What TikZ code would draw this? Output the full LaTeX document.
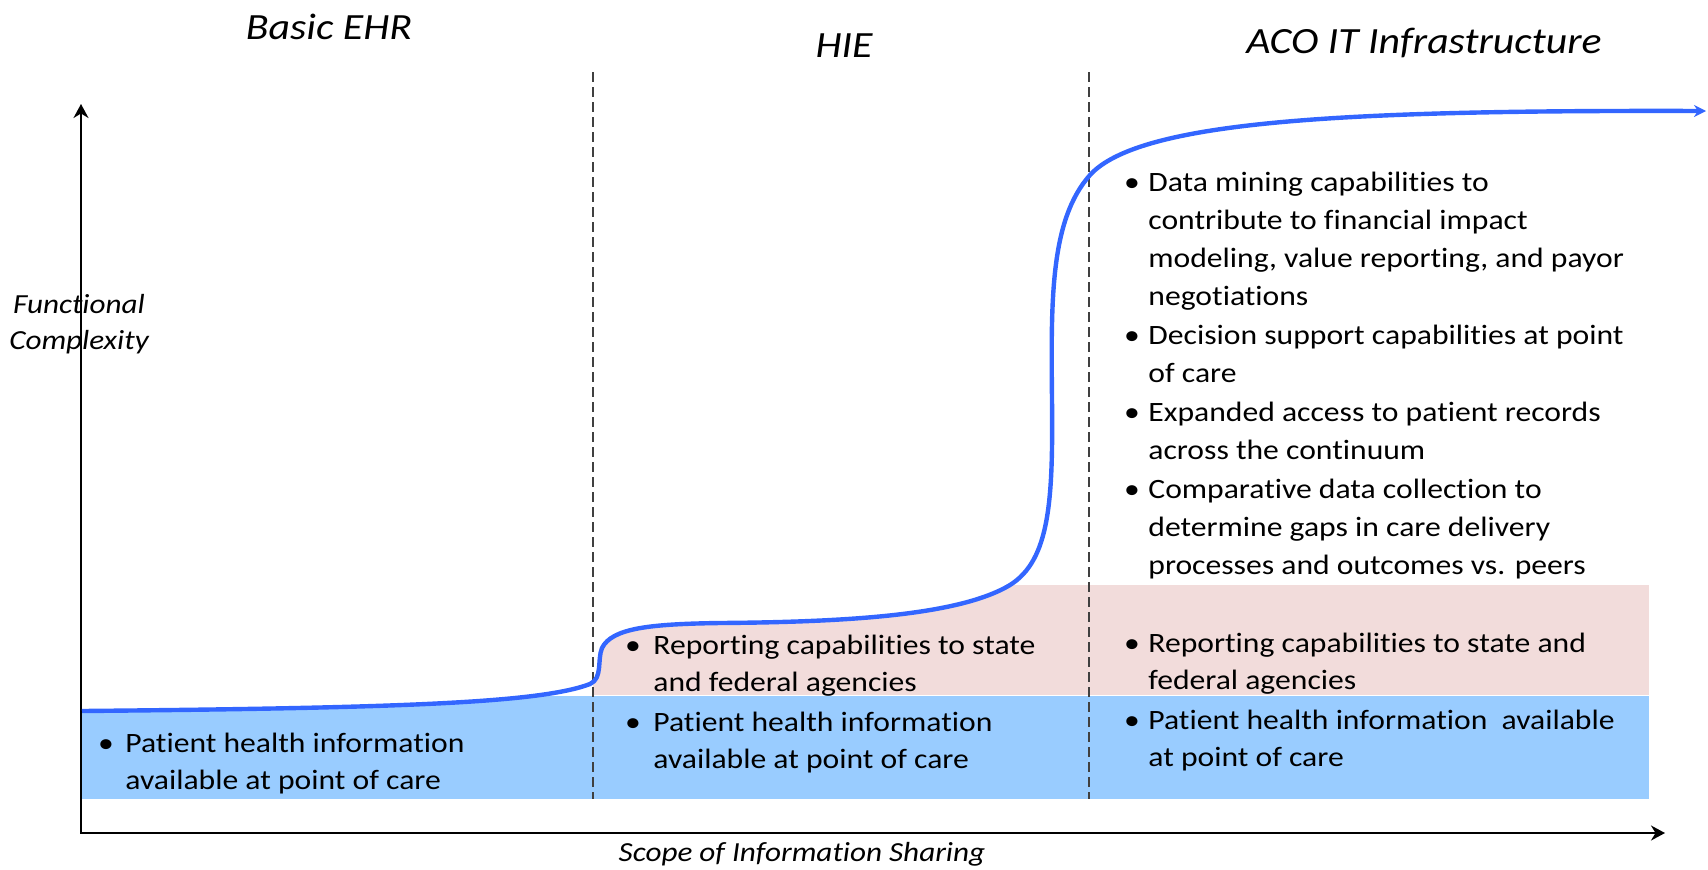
\documentclass[tikz,border=0pt]{standalone}
\usepackage{fontspec}
\setmainfont{Carlito}[FakeStretch=1.13,Ligatures=NoCommon]
\usetikzlibrary{arrows.meta}
\definecolor{bandblue}{HTML}{99CCFF}
\definecolor{bandpink}{HTML}{F2DCDB}
\definecolor{curveblue}{HTML}{3366FF}
\definecolor{dividergray}{HTML}{404040}

\begin{document}
\begin{tikzpicture}[x=0.5pt,y=-0.5pt,
  axis/.style={line width=1.1pt,-{Stealth[length=7pt,width=7.5pt]}},
  divider/.style={draw=dividergray,line width=0.6pt,dash pattern=on 5pt off 2.5pt},
  growth/.style={draw=curveblue,line width=2.2pt,-{Stealth[length=6pt,width=6pt]}},
  heading/.style={font=\fontsize{18.5}{22}\selectfont\itshape,anchor=base,inner sep=0pt},
  axislabel/.style={font=\fontsize{13.8}{16}\selectfont\itshape,anchor=base,inner sep=0pt},
  item/.style={font=\fontsize{14}{17}\selectfont,anchor=base west,inner sep=0pt},
  dot/.style={font=\fontsize{14}{17}\selectfont,anchor=base,inner sep=0pt},
]
\useasboundingbox (0,0) rectangle (1708,869);

% the capability growth curve
\def\growthpath{(82,711) .. controls (400,708) and (540,703) .. (590,684)
  .. controls (603,678) and (597,660) .. (602,648)
  .. controls (612,628) and (650,624) .. (720,623)
  .. controls (850,622) and (960,615) .. (1010,585)
  .. controls (1050,560) and (1053,500) .. (1052,400)
  .. controls (1051,300) and (1050,220) .. (1090,175)
  .. controls (1140,120) and (1350,110) .. (1706,111)}

% capability bands, kept below the curve
\begin{scope}
  \clip \growthpath -- (1708,869) -- (0,869) -- (0,711) -- cycle;
  \fill[bandblue] (81,696) rectangle (1649,799);
  \fill[bandpink] (593,585) rectangle (1649,694.5);
\end{scope}

% stage dividers
\coordinate (d1top) at (593,72);
\coordinate (d1bot) at (593,799);
\coordinate (d2top) at (1089,72);
\coordinate (d2bot) at (1089,799);
\draw[divider] (d1top) -- (d1bot);
\draw[divider] (d2top) -- (d2bot);

% axes
\coordinate (origin) at (81,833);
\coordinate (ytip) at (81,104);
\coordinate (xtip) at (1665,833);
\draw[axis] (origin) -- (ytip);
\draw[axis] ([xshift=-0.5pt]origin) -- (xtip);

\draw[growth] \growthpath;

% stage headings
\node[heading] (ehr) at (329,39) {Basic EHR};
\node[heading] (hie) at (844,57) {HIE};
\node[heading] (aco) at (1424,53) {ACO IT Infrastructure};

% axis labels
\node[axislabel] (ylab1) at (79,313) {Functional};
\node[axislabel] (ylab2) at (79,349) {Complexity};
\node[axislabel] (xlab) at (802,861) {Scope of Information Sharing};

% Basic EHR
\node[dot] (e1) at (106,752) {•};
\node[item] (e1a) at (125,752) {Patient health information};
\node[item] (e1b) at (125,789) {available at point of care};

% HIE
\node[dot] (h1) at (633,654) {•};
\node[item] (h1a) at (653,654) {Reporting capabilities to state};
\node[item] (h1b) at (653,691) {and federal agencies};
\node[dot] (h2) at (633,731) {•};
\node[item] (h2a) at (653,731) {Patient health information};
\node[item] (h2b) at (653,768) {available at point of care};

% ACO IT infrastructure
\node[dot] (a1) at (1132,191) {•};
\node[item] (a1a) at (1148,191) {Data mining capabilities to};
\node[item] (a1b) at (1148,229) {contribute to financial impact};
\node[item] (a1c) at (1148,267) {modeling, value reporting, and payor};
\node[item] (a1d) at (1148,305) {negotiations};
\node[dot] (a2) at (1132,344) {•};
\node[item] (a2a) at (1148,344) {Decision support capabilities at point};
\node[item] (a2b) at (1148,382) {of care};
\node[dot] (a3) at (1132,421) {•};
\node[item] (a3a) at (1148,421) {Expanded access to patient records};
\node[item] (a3b) at (1148,459) {across the continuum};
\node[dot] (a4) at (1132,498) {•};
\node[item] (a4a) at (1148,498) {Comparative data collection to};
\node[item] (a4b) at (1148,536) {determine gaps in care delivery};
\node[item] (a4c) at (1148,574) {processes and outcomes vs. peers};
\node[dot] (a5) at (1132,652) {•};
\node[item] (a5a) at (1148,652) {Reporting capabilities to state and};
\node[item] (a5b) at (1148,689) {federal agencies};
\node[dot] (a6) at (1132,729) {•};
\node[item] (a6a) at (1148,729) {Patient health information\ \ available};
\node[item] (a6b) at (1148,766) {at point of care};
\end{tikzpicture}
\end{document}
